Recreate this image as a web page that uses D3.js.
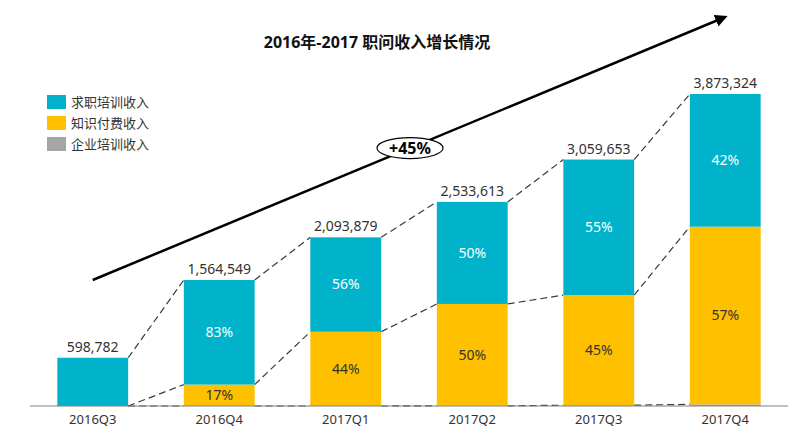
<!DOCTYPE html>
<html>
<head>
<meta charset="utf-8">
<script src="https://cdn.jsdelivr.net/npm/d3@7"></script>
<style type="text/css">
  body{
    margin: 0;
    background: white;
    font-family: 'Noto Sans', 'Noto Sans CJK SC', sans-serif;
  }
  .catText{
    font-size: 13px;
    fill: #333;
  }
  .totalText{
    font-size: 14px;
    fill: #333;
  }
  .pctText{
    font-size: 14px;
  }
</style>
</head>
<body>
<svg id="chart" width="800" height="440"></svg>
<script>

var quarters = ['2016Q3', '2016Q4', '2017Q1', '2017Q2', '2017Q3', '2017Q4'];
var totals = [598782, 1564549, 2093879, 2533613, 3059653, 3873324];
// 求职培训 / 知识付费 / 企业培训
var jobTraining = [598782, 1298576, 1172572, 1266807, 1682809, 1646796];
var knowledgePaid = [0, 265973, 921307, 1264806, 1366844, 2206528];
var enterprise = [0, 0, 0, 2000, 10000, 20000];
var jobPct = ['', '83%', '56%', '50%', '55%', '42%'];
var knowPct = ['', '17%', '44%', '50%', '45%', '57%'];
var seriesNames = ['求职培训收入', '知识付费收入', '企业培训收入'];
var seriesColors = ['#00b3ca', '#ffc000', '#a5a5a5'];
var growthLabel = '+45%';

var svg = d3.select('#chart');

var x = d3.scaleBand()
    .domain(quarters)
    .range([30, 788])
    .paddingInner(0.44)
    .paddingOuter(0.216);

var y = d3.scaleLinear()
    .domain([0, d3.max(totals)])
    .range([406, 94]);

// title
svg.append('text')
  .attr('x', 377)
  .attr('y', 48)
  .attr('text-anchor', 'middle')
  .style('font-size', '16px')
  .style('font-weight', 'bold')
  .style('fill', '#111')
  .text('2016年-2017 职问收入增长情况');

// stacked data: bottom -> top = enterprise, knowledge, job
var rows = quarters.map(function(q, i) {
  return {q: q, enterprise: enterprise[i], knowledge: knowledgePaid[i], job: jobTraining[i]};
});
var stack = d3.stack().keys(['enterprise', 'knowledge', 'job']);
var layers = stack(rows);
var layerColor = {enterprise: seriesColors[2], knowledge: seriesColors[1], job: seriesColors[0]};

// dashed connectors between neighbouring bars at each boundary
var boundaries = [
  layers[0].map(function(d) { return d[1]; }),
  layers[1].map(function(d) { return d[1]; }),
  layers[2].map(function(d) { return d[1]; })
];
boundaries.forEach(function(b) {
  for (var i = 0; i < quarters.length - 1; i++) {
    svg.append('line')
      .attr('x1', x(quarters[i]) + x.bandwidth())
      .attr('y1', y(b[i]))
      .attr('x2', x(quarters[i + 1]))
      .attr('y2', y(b[i + 1]))
      .attr('stroke', '#3a3a3a')
      .attr('stroke-width', 1.2)
      .attr('stroke-dasharray', '7,4');
  }
});

svg.selectAll('.layer')
  .data(layers)
  .enter()
  .append('g')
  .attr('fill', function(d) { return layerColor[d.key]; })
  .selectAll('rect')
  .data(function(d) { return d; })
  .enter()
  .append('rect')
  .attr('x', function(d) { return x(d.data.q); })
  .attr('y', function(d) { return y(d[1]); })
  .attr('width', x.bandwidth())
  .attr('height', function(d) { return y(d[0]) - y(d[1]); });

// axis baseline
svg.append('line')
  .attr('x1', 30).attr('x2', 788)
  .attr('y1', y(0)).attr('y2', y(0))
  .attr('stroke', '#808080')
  .attr('stroke-width', 1.2);

var xAxis = d3.axisBottom(x).tickSize(0).tickPadding(9);
var gx = svg.append('g')
  .attr('transform', 'translate(0,' + y(0) + ')')
  .call(xAxis);
gx.select('.domain').remove();
gx.selectAll('text')
  .attr('class', 'catText')
  .style('font-family', "'Noto Sans', 'Noto Sans CJK SC', sans-serif");

// totals
svg.selectAll('.totalText')
  .data(totals)
  .enter()
  .append('text')
  .attr('class', 'totalText')
  .attr('x', function(d, i) { return x(quarters[i]) + x.bandwidth() / 2; })
  .attr('y', function(d) { return y(d) - 6; })
  .attr('text-anchor', 'middle')
  .text(function(d) { return d3.format(',')(d); });

// percentages
quarters.forEach(function(q, i) {
  var cx = x(q) + x.bandwidth() / 2;
  var kb = layers[1][i];
  var jb = layers[2][i];
  if (jobPct[i]) {
    svg.append('text')
      .attr('class', 'pctText')
      .attr('x', cx)
      .attr('y', (y(jb[0]) + y(jb[1])) / 2)
      .attr('dy', '0.35em')
      .attr('text-anchor', 'middle')
      .style('fill', 'white')
      .text(jobPct[i]);
  }
  if (knowPct[i]) {
    svg.append('text')
      .attr('class', 'pctText')
      .attr('x', cx)
      .attr('y', (y(kb[0]) + y(kb[1])) / 2)
      .attr('dy', '0.35em')
      .attr('text-anchor', 'middle')
      .style('fill', '#333')
      .text(knowPct[i]);
  }
});

// growth arrow
svg.append('defs').append('marker')
  .attr('id', 'arrowHead')
  .attr('viewBox', '0 0 10 10')
  .attr('refX', 8).attr('refY', 5)
  .attr('markerWidth', 5).attr('markerHeight', 5)
  .attr('orient', 'auto')
  .append('path')
  .attr('d', 'M0,0 L10,5 L0,10 z')
  .attr('fill', '#000');

var ax1 = x(quarters[0]) + x.bandwidth() / 2, ay1 = 280;
var ax2 = x(quarters[5]) + x.bandwidth() / 2, ay2 = 17;
svg.append('line')
  .attr('x1', ax1).attr('y1', ay1)
  .attr('x2', ax2).attr('y2', ay2)
  .attr('stroke', '#000')
  .attr('stroke-width', 2.5)
  .attr('marker-end', 'url(#arrowHead)');

var ex = 410;
var ey = ay1 + (ex - ax1) * (ay2 - ay1) / (ax2 - ax1);
svg.append('ellipse')
  .attr('cx', ex).attr('cy', ey)
  .attr('rx', 33).attr('ry', 10.5)
  .attr('fill', 'white')
  .attr('stroke', '#000')
  .attr('stroke-width', 1.2);
svg.append('text')
  .attr('x', ex).attr('y', ey)
  .attr('dy', '0.36em')
  .attr('text-anchor', 'middle')
  .style('font-size', '16px')
  .style('font-weight', 'bold')
  .text(growthLabel);

// legend
var legend = svg.selectAll('.legendItem')
  .data(seriesNames)
  .enter()
  .append('g')
  .attr('transform', function(d, i) { return 'translate(47,' + (95 + i * 21) + ')'; });
legend.append('rect')
  .attr('width', 19).attr('height', 14)
  .attr('fill', function(d, i) { return seriesColors[i]; });
legend.append('text')
  .attr('x', 24).attr('y', 7)
  .attr('dy', '0.35em')
  .style('font-size', '13px')
  .style('fill', '#333')
  .text(function(d) { return d; });

</script>
</body>
</html>
